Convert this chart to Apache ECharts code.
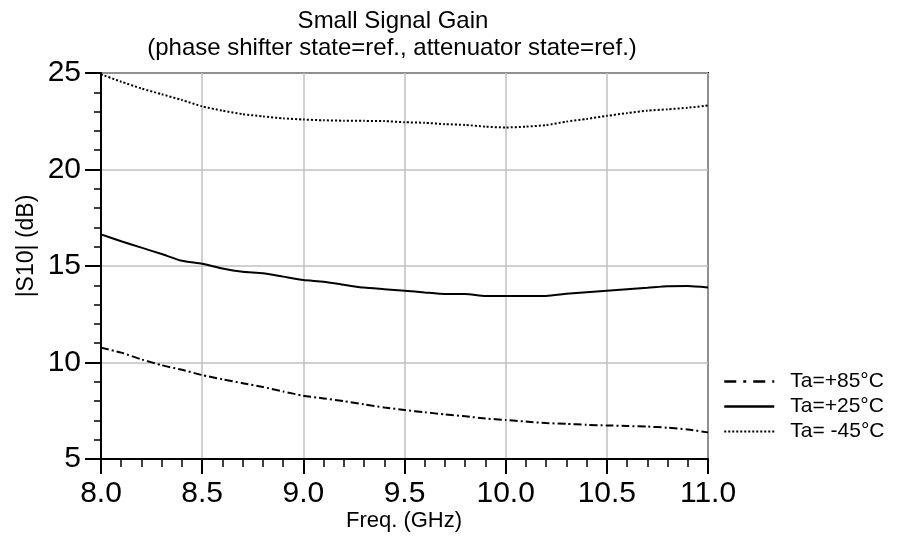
<!DOCTYPE html>
<html>
<head>
<meta charset="utf-8">
<script src="https://cdn.jsdelivr.net/npm/echarts@6/dist/echarts.min.js"></script>
<style>
html,body{margin:0;padding:0;background:#fff;}
#chart{width:899px;height:538px;}
</style>
</head>
<body>
<div id="chart"></div>
<script>
var freq = [8.0,8.1,8.2,8.3,8.4,8.5,8.6,8.7,8.8,8.9,9.0,9.1,9.2,9.3,9.4,9.5,9.6,9.7,9.8,9.9,10.0,10.1,10.2,10.3,10.4,10.5,10.6,10.7,10.8,10.9,11.0];
var gain85 = [10.77,10.51,10.16,9.86,9.62,9.35,9.13,8.93,8.73,8.50,8.28,8.14,8.00,7.83,7.67,7.54,7.42,7.31,7.21,7.10,7.02,6.94,6.86,6.82,6.77,6.74,6.71,6.68,6.62,6.53,6.38];
var gain25 = [16.64,16.28,15.95,15.62,15.27,15.12,14.87,14.70,14.63,14.45,14.27,14.19,14.03,13.88,13.80,13.72,13.63,13.55,13.55,13.45,13.45,13.45,13.45,13.56,13.64,13.72,13.80,13.87,13.95,13.96,13.88];
var gainM45 = [24.93,24.55,24.20,23.90,23.60,23.27,23.05,22.87,22.75,22.65,22.59,22.55,22.53,22.52,22.51,22.45,22.42,22.35,22.31,22.22,22.18,22.22,22.30,22.48,22.62,22.78,22.92,23.05,23.12,23.20,23.32];
var seriesNames = ['Ta=+85°C','Ta=+25°C','Ta= -45°C'];
var titleText = 'Small Signal Gain';
var subtitleText = '(phase shifter state=ref., attenuator state=ref.)';
var xName = 'Freq. (GHz)';
var yName = '|S10| (dB)';

function pairs(ys){ return freq.map(function(x,i){ return [x, ys[i]]; }); }

var FONT = '"Liberation Sans", Arial, sans-serif';
var chart = echarts.init(document.getElementById('chart'));
chart.setOption({
  animation: false,
  backgroundColor: '#fff',
  textStyle: { fontFamily: FONT, color: '#000' },
  title: [
    { text: titleText, left: 388, top: 4, textAlign: 'center',
      textStyle: { fontFamily: FONT, fontSize: 24, fontWeight: 'normal', color: '#000' } },
    { text: subtitleText, left: 387, top: 31, textAlign: 'center',
      textStyle: { fontFamily: FONT, fontSize: 24, fontWeight: 'normal', color: '#000' } }
  ],
  legend: {
    orient: 'vertical', left: 718, top: 366, itemWidth: 50, itemHeight: 14, itemGap: 4,
    itemStyle: { opacity: 0, borderWidth: 0 },
    textStyle: { fontFamily: FONT, fontSize: 21, color: '#000', padding: [0,0,0,11] },
    data: [
      { name: seriesNames[0], lineStyle: { type: [12,7,3,7], width: 2.5 } },
      { name: seriesNames[1], lineStyle: { width: 2.5 } },
      { name: seriesNames[2], lineStyle: { type: [2,2], width: 2 } }
    ]
  },
  graphic: [
    { type: 'text', x: 27, y: 246, rotation: Math.PI / 2,
      style: { text: yName, fontFamily: FONT, fontSize: 23, fill: '#000', align: 'center', verticalAlign: 'middle' } },
    { type: 'text', x: 404, y: 521,
      style: { text: xName, fontFamily: FONT, fontSize: 22, fill: '#000', align: 'center', verticalAlign: 'middle' } }
  ],
  grid: { left: 101, right: 191, top: 73, bottom: 79, show: true, borderColor: '#000', borderWidth: 2 },
  xAxis: {
    type: 'value', min: 8, max: 11, interval: 0.5,
    axisLine: { lineStyle: { color: '#000', width: 2 } },
    axisTick: { show: true, inside: false, length: 15, lineStyle: { color: '#000', width: 2 } },
    minorTick: { show: true, splitNumber: 5, length: 8, lineStyle: { color: '#000', width: 1.5 } },
    splitLine: { show: true, lineStyle: { color: '#c0c0c0', width: 1.5 } },
    axisLabel: { fontFamily: FONT, fontSize: 30, color: '#000', margin: 20,
      formatter: function(v){ return v.toFixed(1); } }
  },
  yAxis: {
    type: 'value', min: 5, max: 25, interval: 5,
    axisLine: { lineStyle: { color: '#000', width: 2 } },
    axisTick: { show: true, inside: false, length: 16, lineStyle: { color: '#000', width: 2 } },
    minorTick: { show: true, splitNumber: 5, length: 7, lineStyle: { color: '#000', width: 1.5 } },
    splitLine: { show: true, lineStyle: { color: '#c0c0c0', width: 1.5 } },
    axisLabel: { fontFamily: FONT, fontSize: 30, color: '#000', margin: 20 }
  },
  series: [
    { name: seriesNames[0], type: 'line', data: pairs(gain85), symbol: 'none', smooth: 0.2,
      lineStyle: { color: '#000', width: 2, type: [8,3,2,3] }, itemStyle: { color: '#000' } },
    { name: seriesNames[1], type: 'line', data: pairs(gain25), symbol: 'none', smooth: 0.2,
      lineStyle: { color: '#000', width: 2, type: 'solid' }, itemStyle: { color: '#000' } },
    { name: seriesNames[2], type: 'line', data: pairs(gainM45), symbol: 'none', smooth: 0.2,
      lineStyle: { color: '#000', width: 2, type: [2,2] }, itemStyle: { color: '#000' } }
  ]
});
</script>
</body>
</html>
